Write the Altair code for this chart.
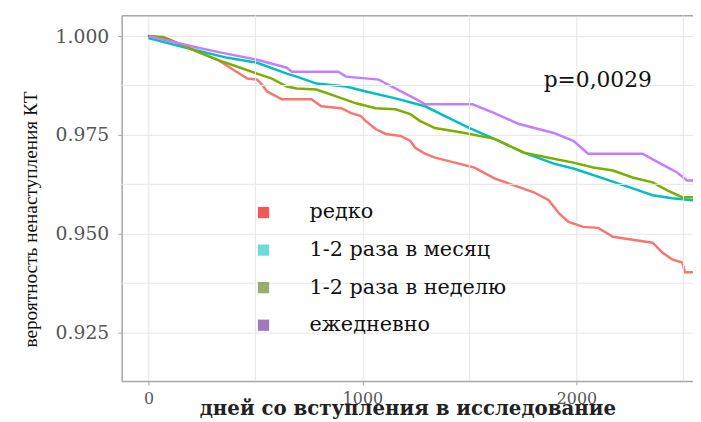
import altair as alt
import pandas as pd

groups = ["редко", "1-2 раза в месяц", "1-2 раза в неделю", "ежедневно"]
line_colors = ["#F8766D", "#00BFC4", "#7CAE00", "#C77CFF"]
legend_colors = ["#F01010", "#30CCCC", "#6E8B2E", "#7A3DA8"]

# Kaplan-Meier curves (days, survival)
t_rare = [0, 92, 231, 323, 462, 508, 531, 554, 624, 762, 808, 901, 947, 993, 1016,
          1062, 1109, 1178, 1224, 1247, 1293, 1339, 1432, 1524, 1617, 1709, 1801,
          1871, 1917, 1963, 2032, 2102, 2171, 2263, 2356, 2402, 2448, 2494, 2508, 2545]
s_rare = [1.0, 0.99925, 0.996, 0.994, 0.98925, 0.989, 0.98775, 0.986, 0.984, 0.984,
          0.98225, 0.98175, 0.9805, 0.97975, 0.9785, 0.9765, 0.97525, 0.97475, 0.9735,
          0.97175, 0.97025, 0.96925, 0.968, 0.96675, 0.964, 0.96225, 0.9605, 0.9585,
          0.95525, 0.953, 0.95175, 0.9515, 0.94925, 0.9485, 0.94775, 0.94525, 0.9435,
          0.94275, 0.94025, 0.94025]

t_month = [0, 217, 370, 508, 647, 693, 785, 924, 1016, 1155, 1293, 1386, 1501, 1617,
           1755, 1894, 1986, 2125, 2263, 2356, 2448, 2545]
s_month = [0.9995, 0.9965, 0.9945, 0.99325, 0.9905, 0.98975, 0.988, 0.98725, 0.986,
           0.98425, 0.98225, 0.97975, 0.97675, 0.974, 0.9705, 0.96775, 0.9665, 0.964,
           0.9615, 0.95975, 0.959, 0.9585]

t_week = [0, 69, 92, 231, 323, 416, 508, 577, 647, 693, 785, 878, 970, 1062, 1155,
          1224, 1270, 1339, 1478, 1617, 1755, 1894, 1986, 2079, 2171, 2263, 2356,
          2425, 2494, 2545]
s_week = [1.0, 0.99975, 0.99925, 0.996, 0.994, 0.99225, 0.9905, 0.98925, 0.98725,
          0.98675, 0.9865, 0.98475, 0.983, 0.98175, 0.9815, 0.98025, 0.9785, 0.97675,
          0.9755, 0.974, 0.9705, 0.969, 0.968, 0.96675, 0.966, 0.96425, 0.963, 0.961,
          0.95925, 0.95925]

t_daily = [0, 217, 323, 508, 647, 670, 887, 924, 1076, 1270, 1293, 1515, 1617, 1732,
           1894, 1986, 2055, 2309, 2402, 2471, 2517, 2545]
s_daily = [1.0, 0.99725, 0.996, 0.994, 0.992, 0.991, 0.991, 0.98975, 0.989, 0.9835,
           0.98275, 0.98275, 0.9805, 0.97775, 0.9755, 0.9735, 0.97025, 0.97025, 0.9675,
           0.9655, 0.9635, 0.9635]

x_ticks = [0, 1000, 2000]
x_minor = [500, 1500, 2500]
y_ticks = [0.925, 0.95, 0.975, 1.0]
y_minor = [0.9375, 0.9625, 0.9875]
x_domain = [-125, 2545]
y_domain = [0.91275, 1.00525]

p_label = ["p=0,0029"]
p_x = [2100]
p_y = [0.989]

series = [(groups[0], line_colors[0], t_rare, s_rare),
          (groups[1], line_colors[1], t_month, s_month),
          (groups[2], line_colors[2], t_week, s_week),
          (groups[3], line_colors[3], t_daily, s_daily)]
rows = []
for g, c, ts, ss in series:
    for t, s in zip(ts, ss):
        rows.append({"group": g, "col": c, "t": t, "s": s})
df = pd.DataFrame(rows)
first_rows = df.groupby("group", sort=False).head(1)

GRID = "#e6e6e6"
AX = "#a8a8a8"
SERIF = "DejaVu Serif"

xs = alt.Scale(domain=x_domain, nice=False, zero=False)
ys = alt.Scale(domain=y_domain, nice=False, zero=False)

minor_x = alt.Chart(pd.DataFrame({"v": x_minor})).mark_rule(color=GRID, strokeWidth=1).encode(
    x=alt.X("v:Q", scale=xs,
            axis=alt.Axis(orient="top", labels=False, ticks=False, grid=False, title=None,
                          domainColor=AX, domainWidth=1.5))
)
minor_y = alt.Chart(pd.DataFrame({"v": y_minor})).mark_rule(color=GRID, strokeWidth=1).encode(
    y=alt.Y("v:Q", scale=ys, axis=None)
)

lines = alt.Chart(df).mark_line(strokeWidth=2.5, interpolate="linear").encode(
    x=alt.X("t:Q", scale=xs,
            axis=alt.Axis(values=x_ticks, format="d", grid=True, gridColor=GRID,
                          domainColor=AX, domainWidth=1.5, tickColor=AX, tickSize=4,
                          labelFont=SERIF, labelFontSize=16, labelColor="#555555",
                          labelPadding=6,
                          title="дней со вступления в исследование",
                          titleFont=SERIF, titleFontSize=20, titleFontWeight="bold",
                          titleColor="#222222", titleBaseline="alphabetic",
                          titleY=34, titleAlign="center")),
    y=alt.Y("s:Q", scale=ys,
            axis=alt.Axis(values=y_ticks, format=".3f", grid=True, gridColor=GRID,
                          domainColor=AX, domainWidth=1.5, tickColor=AX, tickSize=4,
                          labelFont=SERIF, labelFontSize=19, labelColor="#555555",
                          labelPadding=9,
                          title="вероятность ненаступления КТ",
                          titleFont="Liberation Serif", titleFontSize=19.5,
                          titleFontWeight="normal", titleColor="#111111",
                          titleAngle=270, titleAlign="center", titleBaseline="middle",
                          titleX=-92, titleY=206)),
    color=alt.Color("col:N", scale=None),
    detail="group:N",
)

legend_layer = alt.Chart(first_rows).mark_square(size=1).encode(
    x=alt.X("t:Q", scale=xs, axis=None),
    y=alt.Y("s:Q", scale=ys, axis=None),
    fill=alt.Fill("group:N", scale=alt.Scale(domain=groups, range=legend_colors),
                  sort=groups,
                  legend=alt.Legend(title=None, orient="none", legendX=133, legendY=189,
                                    symbolType="square", symbolSize=130,
                                    labelFont=SERIF, labelFontSize=21,
                                    labelColor="#111111", labelOffset=36,
                                    rowPadding=16, labelLimit=400)),
)

p_text = alt.Chart(pd.DataFrame({"x": p_x, "y": p_y, "label": p_label})).mark_text(
    font=SERIF, fontSize=22, color="#111111", align="center", baseline="middle"
).encode(
    x=alt.X("x:Q", scale=xs, axis=None),
    y=alt.Y("y:Q", scale=ys, axis=None),
    text="label:N",
)

chart = alt.layer(lines, minor_x, minor_y, legend_layer, p_text).resolve_axis(
    x="independent", y="independent"
).properties(
    width=578, height=370,
    autosize=alt.AutoSizeParams(type="none"),
    padding={"left": 115, "top": 5, "right": 0, "bottom": 40},
).configure_view(stroke=None).configure(background="white")

chart.save("out.html", embed_options={"renderer": "svg", "actions": False})
